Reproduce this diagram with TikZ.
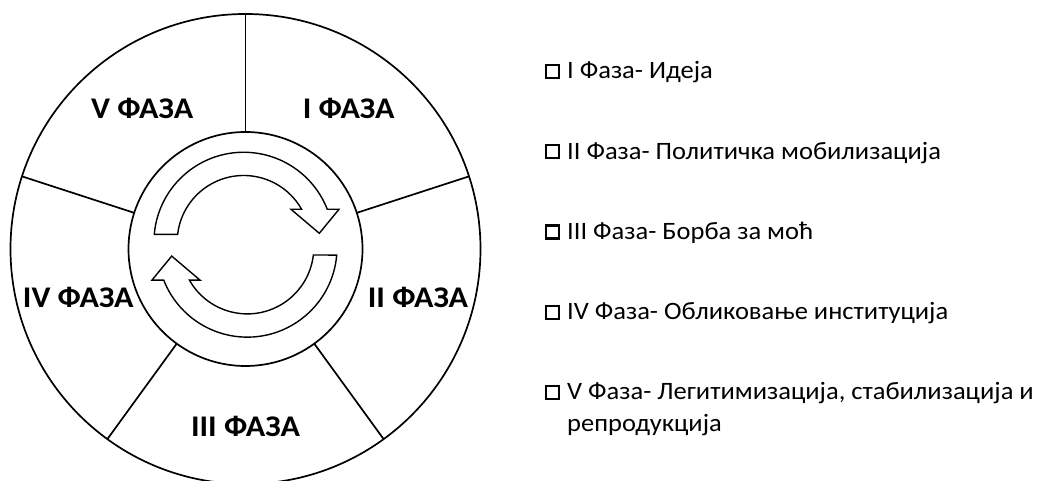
\documentclass[tikz,border=0pt]{standalone}
\usepackage{fontspec}
\setmainfont{Carlito}
\newfontfamily\phasefont[FakeStretch=1.07]{Carlito}
\newfontfamily\legendfont[FakeStretch=1.06]{Carlito}
\usetikzlibrary{calc}
\begin{document}
\begin{tikzpicture}[x=1pt,y=1pt,
  ring/.style={circle,draw,line width=1.7pt,inner sep=0pt,outer sep=0pt},
  spoke/.style={line width=1.7pt},
  phase/.style={font=\phasefont\fontsize{30}{34}\selectfont\bfseries,inner sep=0pt,anchor=base},
  legend/.style={font=\legendfont\fontsize{25}{32}\selectfont,inner sep=0pt,anchor=base west,align=left},
  bulletbox/.style={draw,line width=2.3pt},
  cycle arrow/.style={draw,fill=white,line width=1.4pt,line join=miter},
  cyc arrow/.pic={
    \draw[cycle arrow] (-1.8,2.7) ++(175.1:89.75)
      arc[start angle=175.1,end angle=21.4,radius=89.75]
      -- (93.5,35.4) -- (73.8,11.4) -- (45.5,35.4)
      -- ($(-1.8,2.7)+(29.5:66.5)$)
      arc[start angle=29.5,end angle=173.4,radius=66.5] -- cycle;
  }
]
\useasboundingbox (0,0) rectangle (1039,481);

% wheel: outer rim, hub and five spokes
\node[ring,minimum size=470pt] (outer) at (245.5,232) {};
\node[ring,minimum size=234pt] (inner) at (245.5,232) {};
\foreach \a in {90,18,-54,-126,162}
  \draw[spoke] (inner.\a) -- (outer.\a);

% phase labels
\node[phase] (p1) at (348.7,362.7) {I ФАЗА};
\node[phase] (p5) at (142.2,362.7) {V ФАЗА};
\node[phase] (p2) at (418,173.7) {II ФАЗА};
\node[phase] (p4) at (78.3,173.7) {IV ФАЗА};
\node[phase] (p3) at (245.5,44.3) {III ФАЗА};

% two circular arrows in the hub
\coordinate (hub) at (245.5,236.3);
\pic at (hub) {cyc arrow};
\pic[rotate=180] at (hub) {cyc arrow};

% legend (base of a two-line node is its last line)
\node[legend] (l1) at (567,402) {I Фаза- Идеја};
\node[legend] (l2) at (567,321.75) {II Фаза- Политичка мобилизација};
\node[legend] (l3) at (567,241.5) {III Фаза- Борба за моћ};
\node[legend] (l4) at (567,161.25) {IV Фаза- Обликовање институција};
\node[legend] (l5) at (567,49) {V Фаза- Легитимизација, стабилизација и\\репродукција};
\foreach \n in {l1,l2,l3,l4}
  \draw[bulletbox] ($(\n.base west)+(-21,1)$) rectangle ++(13,13);
\draw[bulletbox] ($(l5.base west)+(-21,33)$) rectangle ++(13,13);
\end{tikzpicture}
\end{document}
